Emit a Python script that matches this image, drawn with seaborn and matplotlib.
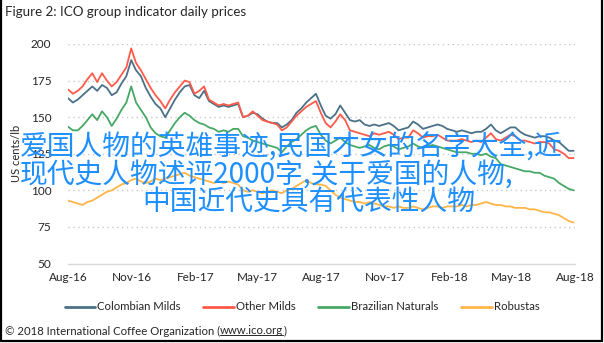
import numpy as np
import pandas as pd
import matplotlib
matplotlib.use("Agg")
import matplotlib.pyplot as plt
import matplotlib.dates as mdates
from matplotlib.lines import Line2D
import seaborn as sns

# ---------------- data (weekly readings, US cents/lb) ----------------
start_date = "2016-08-01"
n_weeks = 105
series_names = ["Colombian Milds", "Other Milds", "Brazilian Naturals", "Robustas"]

colombian = [163, 160, 162, 165, 168, 171, 168, 172, 170, 165,
             167, 173, 178, 189, 182, 178, 170, 164, 159, 156,
             150, 156, 162, 167, 171, 172, 165, 163, 168, 161,
             159, 157, 158, 157, 158, 159, 150, 151, 153, 152,
             149, 147, 146, 146, 143, 145, 148, 153, 156, 160,
             163, 166, 158, 151, 149, 152, 158, 153, 148, 147,
             148, 145, 144, 145, 144, 145, 146, 144, 141, 142,
             143, 147, 145, 142, 143, 144, 145, 144, 142, 141,
             140, 141, 140, 139, 140, 140, 142, 145, 141, 139,
             141, 143, 143, 140, 138, 137, 136, 137, 137, 136,
             134, 133, 130, 127, 127]

other_milds = [169, 166, 168, 171, 176, 180, 174, 180, 175, 171,
               174, 179, 184, 197, 187, 182, 176, 170, 165, 161,
               156, 162, 167, 171, 175, 174, 166, 168, 171, 162,
               160, 158, 159, 158, 159, 160, 150, 151, 154, 151,
               148, 147, 146, 145, 141, 143, 147, 151, 154, 157,
               159, 161, 153, 146, 143, 147, 152, 148, 141, 140,
               139, 138, 137, 139, 138, 139, 140, 138, 135, 136,
               136, 141, 139, 136, 137, 137, 138, 136, 134, 134,
               134, 135, 134, 133, 134, 133, 136, 139, 135, 134,
               136, 138, 137, 134, 134, 133, 132, 133, 133, 132,
               128, 127, 125, 122, 122]

brazilian = [143.5, 141, 141, 144, 148, 152, 148, 154, 150, 144,
             149, 155, 160, 171, 160, 155, 150, 143, 139, 137,
             136, 141, 146, 150, 153, 151, 148, 146, 145, 143,
             142, 140, 141, 140, 142, 142, 137, 136, 134, 133,
             132, 131, 130, 129, 126, 130, 133, 135, 138, 141,
             143, 144, 138, 134, 132, 134, 136, 133, 131, 130,
             129, 130, 131, 129, 128, 130, 131, 130, 128, 129,
             130, 132, 130, 129, 130, 131, 130, 129, 128, 127,
             126, 126, 126, 125, 125, 124, 125, 123, 122, 118,
             117, 116, 115, 114, 113, 113, 112, 112, 110, 109,
             108, 105, 103, 101, 100]

robustas = [93, 92, 91, 90, 92, 93, 95, 97, 99, 100,
            102, 104, 105, 107, 108, 106, 105, 106, 108, 107,
            108, 109, 110, 111, 112, 110, 109, 108, 107, 106,
            105, 106, 105, 106, 105, 104, 100, 99, 100, 99,
            98, 99, 100, 99, 98, 100, 101, 103, 105, 107,
            105, 104, 104, 103, 100, 97, 95, 94, 93, 92,
            92, 91, 92, 91, 90, 89, 89, 88, 89, 88,
            88, 89, 88, 87, 88, 89, 89, 88, 89, 89,
            89, 90, 89, 90, 90, 91, 92, 91, 90, 90,
            89, 89, 88, 88, 88, 87, 87, 86, 85, 85,
            84, 83, 81, 79, 78]

y_ticks = [50, 75, 100, 125, 150, 175, 200]
x_tick_start, x_tick_end = "2016-08-01", "2018-08-01"

title_text = "Figure 2: ICO group indicator daily prices"
y_label = "US cents/lb"
footer_pre = "\u00a9 2018 International Coffee Organization ("
footer_link = "www.ico.org"
footer_post = ")"
overlay_lines = ["爱国人物的英雄事迹,民国才女的名字大全,近",
                 "现代史人物述评2000字,关于爱国的人物,",
                 "中国近代史具有代表性人物"]

palette = {"Colombian Milds": "#4A7187", "Other Milds": "#FF5A4A",
           "Brazilian Naturals": "#47A866", "Robustas": "#FFB547"}

# ---------------- build table ----------------
dates = pd.date_range(start_date, periods=n_weeks, freq="7D")
df = pd.concat([
    pd.DataFrame({"date": dates, "value": vals, "series": name})
    for name, vals in zip(series_names, [colombian, other_milds, brazilian, robustas])
], ignore_index=True)

# ---------------- figure ----------------
sns.set_theme(style="white")
plt.rcParams["font.family"] = ["Lato", "DejaVu Sans"]

W, H = 604, 343
fig = plt.figure(figsize=(W / 100, H / 100), dpi=100)
ax = fig.add_axes([68 / W, 1 - 263.5 / H, (575 - 68) / W, (263.5 - 44) / H])

sns.lineplot(data=df, x="date", y="value", hue="series", hue_order=series_names,
             palette=palette, linewidth=1.3, ax=ax, legend=False)

ax.set_ylim(50, 200)
ax.set_yticks(y_ticks)
ax.set_xlim(pd.Timestamp(x_tick_start), pd.Timestamp(x_tick_end))
ax.set_xticks(pd.date_range(x_tick_start, x_tick_end, freq="3MS"))
ax.xaxis.set_major_formatter(mdates.DateFormatter("%b-%y"))
ax.tick_params(axis="both", length=0, labelsize=8.5, labelcolor="#262626")
ax.tick_params(axis="x", pad=6)
ax.tick_params(axis="y", pad=12)
ax.set_xlabel("")
ax.set_ylabel(y_label, fontsize=8, color="#262626", labelpad=6)

for v in y_ticks[1:]:
    ax.axhline(v, color="#C8C8C8", linestyle=(0, (1, 2.5)), linewidth=1.0, zorder=0)
for s in ["top", "right", "left"]:
    ax.spines[s].set_visible(False)
ax.spines["bottom"].set_color("#D9D9D9")
ax.spines["bottom"].set_linewidth(1.0)
ax.set_facecolor("white")

# title
fig.text(5 / W, 1 - 12 / H, title_text, fontsize=9.6, color="#262626", va="center", ha="left")

# legend
handles = [Line2D([0], [0], color=palette[n], linewidth=2) for n in series_names]
fig.legend(handles, series_names, loc="center", bbox_to_anchor=(0.5, 1 - 307 / H),
           ncol=4, frameon=False, fontsize=8.2, handlelength=2.7, handletextpad=0.15,
           columnspacing=2.0, labelcolor="#262626")

# footer with underlined link
fy = 1 - 331 / H
t1 = fig.text(5 / W, fy, footer_pre, fontsize=8.2, color="#262626", va="center", ha="left")
fig.canvas.draw()
r = fig.canvas.get_renderer()
bb1 = t1.get_window_extent(r)
t2 = fig.text(bb1.x1 / W, fy, footer_link, fontsize=8.2, color="#262626", va="center", ha="left")
fig.canvas.draw()
bb2 = t2.get_window_extent(r)
fig.text(bb2.x1 / W, fy, footer_post, fontsize=8.2, color="#262626", va="center", ha="left")
uy = (bb2.y0 + 1.5) / H
fig.add_artist(Line2D([bb2.x0 / W, bb2.x1 / W], [uy, uy], color="#262626", linewidth=0.7,
                      transform=fig.transFigure))

# overlay text
cjk = ["Noto Sans CJK SC", "DejaVu Sans"]
fs_over = 20.0
fig.text(20 / W, 1 - 148 / H, overlay_lines[0], fontsize=fs_over, color="#1E8FFF",
         family=cjk, va="center", ha="left", zorder=10)
fig.text(20 / W, 1 - 175 / H, overlay_lines[1], fontsize=fs_over, color="#1E8FFF",
         family=cjk, va="center", ha="left", zorder=10)
fig.text(142 / W, 1 - 202 / H, overlay_lines[2], fontsize=fs_over, color="#1E8FFF",
         family=cjk, va="center", ha="left", zorder=10)

# border (left, right, bottom)
bc = "#000000"
fig.add_artist(Line2D([1 / W, 1 / W], [1 - 341 / H, 1], color=bc, linewidth=1.6, transform=fig.transFigure))
fig.add_artist(Line2D([601.5 / W, 601.5 / W], [1 - 341 / H, 1], color=bc, linewidth=1.6, transform=fig.transFigure))
fig.add_artist(Line2D([1 / W, 601.5 / W], [1 - 340.5 / H, 1 - 340.5 / H], color=bc, linewidth=1.6,
                      transform=fig.transFigure))

fig.savefig("out.png", dpi=100, facecolor="white")
